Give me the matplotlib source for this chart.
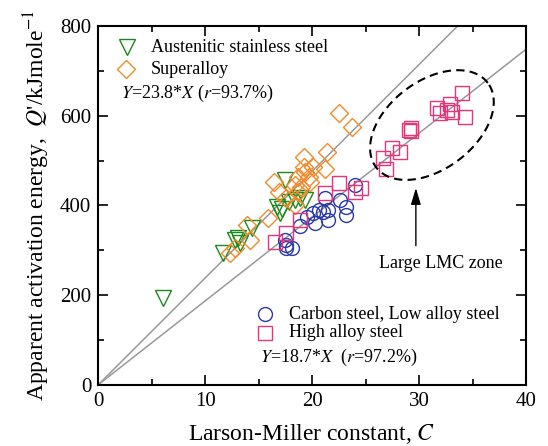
import numpy as np
import matplotlib.pyplot as plt
from matplotlib.ticker import MultipleLocator

plt.rcParams['font.family'] = ['Liberation Serif', 'DejaVu Serif']
plt.rcParams['mathtext.fontset'] = 'stix'

# Austenitic stainless steel
aus_x = [6.1, 11.7, 12.8, 13.3, 13.1, 14.4, 16.7, 17.0, 17.5, 17.8, 18.4, 18.9, 19.3, 17.2]
aus_y = [193, 293, 323, 316, 327, 349, 397, 383, 457, 408, 412, 416, 412, 393]
# Superalloy
sup_x = [12.3, 12.8, 13.9, 14.2, 15.9, 16.4, 16.9, 17.6, 18.4, 18.7, 19.2, 19.2, 19.3,
         19.7, 19.8, 19.0, 20.1, 21.2, 21.4, 22.5, 23.7, 18.4, 18.7]
sup_y = [293, 305, 356, 323, 371, 453, 430, 416, 401, 430, 508, 486, 475,
         464, 453, 442, 486, 482, 520, 605, 575, 445, 464]
# Carbon steel, low alloy steel
cs_x = [17.6, 18.1, 17.5, 17.6, 18.9, 19.5, 20.1, 20.3, 20.6, 21.2, 21.5, 21.5, 22.6,
        23.2, 23.2, 24.0, 21.0]
cs_y = [304, 304, 323, 312, 353, 375, 382, 360, 390, 416, 390, 367, 412,
        397, 379, 445, 385]
# High alloy steel
ha_x = [16.5, 17.6, 18.9, 21.2, 22.5, 24.0, 24.6, 26.6, 26.9, 27.5, 28.2, 29.2, 29.2,
        29.1, 31.7, 32.0, 32.6, 32.9, 33.1, 34.0, 34.3]
ha_y = [319, 338, 367, 427, 450, 430, 438, 505, 482, 527, 520, 572, 565,
        568, 616, 605, 612, 627, 608, 650, 597]

slope_1 = 23.8
slope_2 = 18.7

fig = plt.figure(figsize=(5.48, 4.46), dpi=100)
ax = fig.add_axes([0.179, 0.137, 0.781, 0.805])

xx = np.array([0, 40])
ax.plot(xx, slope_1 * xx, color='#999999', lw=1.1, zorder=1)
ax.plot(xx, slope_2 * xx, color='#999999', lw=1.1, zorder=1)

mk = dict(ls='none', mfc='none', mew=1.0)
ax.plot(aus_x, aus_y, marker='v', ms=11, mec='#1a8a1a', **mk)
ax.plot(sup_x, sup_y, marker='D', ms=9.5, mec='#f28a2a', **mk)
ax.plot(cs_x, cs_y, marker='o', ms=10, mec='#2a3aa8', **mk)
ax.plot(ha_x, ha_y, marker='s', ms=10, mec='#e8347a', **mk)

# dashed ellipse around large LMC zone, shaped in pixel space
sx = 428.0 / 40   # px per unit x
sy = 359.0 / 800  # px per unit y
cx, cy = 31.2, 579
a, b, th = 70, 44, np.deg2rad(37)
t = np.linspace(0, 2 * np.pi, 200)
ex = a * np.cos(t) * np.cos(th) - b * np.sin(t) * np.sin(th)
ey = a * np.cos(t) * np.sin(th) + b * np.sin(t) * np.cos(th)
ax.plot(cx + ex / sx, cy + ey / sy, color='black', ls=(0, (4, 2.5)), lw=1.5)

ax.annotate('', xy=(29.7, 445), xytext=(29.7, 304),
            arrowprops=dict(arrowstyle='-|>,head_length=1.0,head_width=0.3', color='black', lw=1))
ax.text(32.0, 271, 'Large LMC zone', ha='center', va='center', fontsize=13)

# legends drawn as text
ax.plot([2.7], [752], marker='v', ms=11, mec='#1a8a1a', **mk)
ax.text(4.9, 752, 'Austenitic stainless steel', va='center', fontsize=13)
ax.plot([2.6], [703], marker='D', ms=9.5, mec='#f28a2a', **mk)
ax.text(4.9, 703, 'Superalloy', va='center', fontsize=13)
ax.text(2.1, 650, r'$Y$=23.8*$X$ ($r$=93.7%)', va='center', fontsize=13)

ax.plot([15.6], [157], marker='o', ms=10, mec='#2a3aa8', **mk)
ax.text(17.8, 157, 'Carbon steel, Low alloy steel', va='center', fontsize=13)
ax.plot([15.6], [116], marker='s', ms=10, mec='#e8347a', **mk)
ax.text(17.8, 116, 'High alloy steel', va='center', fontsize=13)
ax.text(15.1, 62, r'$Y$=18.7*$X$  ($r$=97.2%)', va='center', fontsize=13)

ax.set_xlim(0, 40)
ax.set_ylim(0, 800)
ax.xaxis.set_major_locator(MultipleLocator(10))
ax.xaxis.set_minor_locator(MultipleLocator(5))
ax.yaxis.set_major_locator(MultipleLocator(200))
ax.yaxis.set_minor_locator(MultipleLocator(100))
ax.tick_params(which='both', direction='in', top=True, right=True, width=1.2,
               labelsize=15, pad=5)
ax.tick_params(which='major', length=7)
ax.tick_params(which='minor', length=4)
for s in ax.spines.values():
    s.set_linewidth(1.5)

ax.set_xlabel(r"Larson-Miller constant, $C$", fontsize=17, labelpad=8)
ax.set_ylabel(r"Apparent activation energy,  $Q$'/kJmole$^{-1}$", fontsize=17, labelpad=6)

fig.savefig('out.png', dpi=100)
